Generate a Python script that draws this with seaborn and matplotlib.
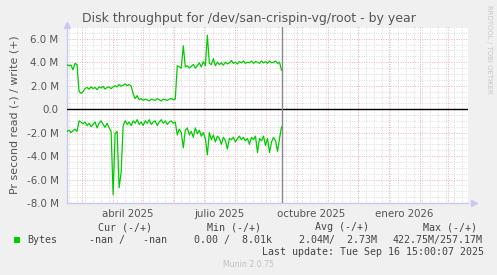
import numpy as np
import pandas as pd
import matplotlib
matplotlib.use("Agg")
import matplotlib.pyplot as plt
import seaborn as sns

# ---------------- data ----------------
start_date = "2025-02-14"
end_date = "2026-03-21"
now_date = "2025-09-16"
day_offsets = list(range(0, 216, 2))

write_M = [3.8, 3.7, 3.75, 3.35, 3.9, 3.8, 1.5, 1.35, 1.5, 1.75,
           1.85, 1.7, 1.9, 1.75, 1.85, 1.65, 1.9, 1.8, 1.95, 1.7,
           1.85, 1.9, 1.75, 1.9, 2.0, 1.9, 2.1, 1.95, 2.05, 2.15,
           2.0, 2.1, 1.95, 1.3, 0.9, 1.15, 0.8, 0.9, 0.75, 0.85,
           0.8, 0.7, 0.85, 0.8, 0.75, 0.9, 0.8, 0.7, 0.85, 0.8,
           0.75, 0.85, 0.9, 0.8, 0.85, 3.7, 3.6, 3.5, 5.4, 3.6,
           3.7, 3.5, 3.65, 3.8, 3.5, 3.7, 3.95, 3.6, 4.05, 3.7,
           6.3, 3.9, 3.8, 4.3, 3.7, 4.0, 3.8, 3.95, 3.75, 4.0,
           3.85, 3.95, 4.15, 3.9, 4.0, 3.85, 4.05, 3.95, 4.1, 3.9,
           4.0, 3.95, 4.1, 3.9, 4.05, 4.0, 3.9, 4.1, 3.95, 4.05,
           3.9, 4.1, 3.95, 4.0, 4.1, 3.9, 4.0, 3.3]

read_M = [-1.9, -1.8, -2.0, -1.85, -1.7, -1.9, -1.0, -1.1, -1.25, -1.1,
          -1.4, -1.2, -1.5, -1.3, -1.1, -1.6, -1.2, -1.0, -1.3, -1.55,
          -1.2, -1.6, -1.9, -7.3, -2.1, -1.9, -6.7, -5.4, -1.4, -1.0,
          -1.3, -1.1, -1.4, -1.0, -1.2, -0.9, -1.3, -1.1, -1.4, -1.0,
          -1.2, -0.9, -1.3, -1.1, -1.0, -1.4, -1.1, -0.9, -1.2, -1.0,
          -1.3, -1.1, -1.0, -1.2, -1.1, -2.2, -1.7, -2.0, -3.3, -1.8,
          -1.6, -2.2, -1.9, -2.4, -1.6, -2.1, -1.8, -2.3, -2.0, -2.5,
          -3.9, -2.0, -2.6, -2.2, -2.8, -2.3, -2.5, -3.0, -2.4, -2.7,
          -3.4, -2.5, -2.6, -2.4, -2.8, -2.5, -2.3, -2.6, -2.4, -2.7,
          -2.5, -3.0, -2.4, -2.6, -2.3, -3.7, -2.5, -2.7, -2.3, -3.1,
          -2.5, -3.7, -2.8, -2.4, -2.7, -3.6, -2.5, -1.5]

y_ticks = [-8, -6, -4, -2, 0, 2, 4, 6]
x_tick_dates = ["2025-04-16", "2025-07-16", "2025-10-16", "2026-01-16"]
x_tick_labels = ["abril 2025", "julio 2025", "octubre 2025", "enero 2026"]

title = "Disk throughput for /dev/san-crispin-vg/root - by year"
ylabel = "Pr second read (-) / write (+)"
legend_name = "Bytes"
cur_txt, min_txt, avg_txt, max_txt = "-nan /   -nan", "0.00 /  8.01k", "2.04M/  2.73M", "422.75M/257.17M"
last_update = "Last update: Tue Sep 16 15:00:07 2025"

# ---------------- build ----------------
t0 = pd.Timestamp(start_date)
dates = [t0 + pd.Timedelta(days=d) for d in day_offsets]
df = pd.DataFrame({"date": dates * 2,
                   "value": write_M + read_M,
                   "series": ["write"] * len(dates) + ["read"] * len(dates)})

sns.set_style("white")
plt.rcParams["font.family"] = ["DejaVu Sans"]

W, H = 497, 275
fig = plt.figure(figsize=(W / 100, H / 100), dpi=100, facecolor="#F0F0F0")
L, R, T, B = 67, 468, 27, 203
ax = fig.add_axes([L / W, 1 - B / H, (R - L) / W, (B - T) / H])
ax.set_facecolor("white")

xmin, xmax = pd.Timestamp(start_date), pd.Timestamp(end_date)
ymin, ymax = -8.0, 7.0

minor_col = "#DADADA"
major_col = "#EBB0B0"
dash = (0, (1, 1.5))

# horizontal grid
for v in np.arange(-8.0, 7.01, 0.5):
    if abs(v % 2) > 1e-9:
        ax.axhline(v, color=minor_col, lw=0.7, ls=dash, zorder=1)
for v in y_ticks:
    if v != 0:
        ax.axhline(v, color=major_col, lw=0.7, ls=dash, zorder=1.5)
# vertical grid
for d in range(2, 402, 8):
    ax.axvline(t0 + pd.Timedelta(days=d), color=minor_col, lw=0.7, ls=dash, zorder=1)
for m in pd.date_range("2025-03-01", "2026-03-01", freq="MS"):
    ax.axvline(m, color=major_col, lw=0.7, ls=dash, zorder=1.5)

# data
sns.lineplot(data=df, x="date", y="value", hue="series",
             palette={"write": "#00CC00", "read": "#00CC00"},
             lw=0.9, legend=False, ax=ax, zorder=3, estimator=None)

ax.axhline(0, color="black", lw=1.0, zorder=4)
ax.axvline(pd.Timestamp(now_date), color="#888888", lw=1.0, zorder=4)

ax.set_xlim(xmin, xmax)
ax.set_ylim(ymin, ymax)

ax.set_yticks(y_ticks)
ax.set_yticklabels([("%.1f M" % v) if v != 0 else "0.0" for v in y_ticks])
ax.set_xticks([pd.Timestamp(d) for d in x_tick_dates])
ax.set_xticklabels(x_tick_labels)
ax.tick_params(axis="both", length=0, labelsize=7.4, colors="#555555")
ax.tick_params(axis="y", pad=6)
ax.tick_params(axis="x", pad=4)
ax.set_xlabel("")
ax.set_ylabel(ylabel, fontsize=7.9, color="#555555", labelpad=5)

for s in ["top", "right"]:
    ax.spines[s].set_visible(False)
for s in ["left", "bottom"]:
    ax.spines[s].set_color("#C8C8F0")
    ax.spines[s].set_linewidth(1.0)
ax.plot([0], [1.01], marker="^", color="#C8C8F0", markersize=4, transform=ax.transAxes, clip_on=False)
ax.plot([1.015], [0], marker=">", color="#C8C8F0", markersize=4, transform=ax.transAxes, clip_on=False)

# title & side texts
fig.text(0.5, 1 - 22 / H, title, ha="center", va="baseline", fontsize=9.0, color="#555555")
fig.text(489 / W, 1 - 5 / H, "RRDTOOL / TOBI OETIKER", rotation=270, ha="center", va="top",
         fontsize=5.0, color="#C8C8C8")

# legend block
mono = dict(family="DejaVu Sans Mono", fontsize=7.2, color="#444444", va="baseline")
def px(x, y):
    return x / W, 1 - y / H
fig.text(*px(98, 230), "Cur (-/+)", **mono)
fig.text(*px(207, 230), "Min (-/+)", **mono)
fig.text(*px(315, 230), "Avg (-/+)", **mono)
fig.text(*px(423, 230), "Max (-/+)", **mono)
fig.text(*px(27, 243), legend_name, **mono)
fig.text(*px(89, 243), cur_txt, **mono)
fig.text(*px(194, 243), min_txt, **mono)
fig.text(*px(299, 243), avg_txt, **mono)
fig.text(*px(393, 243), max_txt, **mono)
fig.text(*px(262, 255), last_update, **mono)
fig.patches.append(plt.Rectangle((14 / W, 1 - 243 / H), 6 / W, 6 / H, transform=fig.transFigure,
                                 facecolor="#00CC00", edgecolor="none"))
fig.text(0.5, 1 - 267 / H, "Munin 2.0.75", ha="center", va="baseline", fontsize=5.6, color="#C0C0C0")

fig.savefig("out.png", dpi=100, facecolor=fig.get_facecolor())
